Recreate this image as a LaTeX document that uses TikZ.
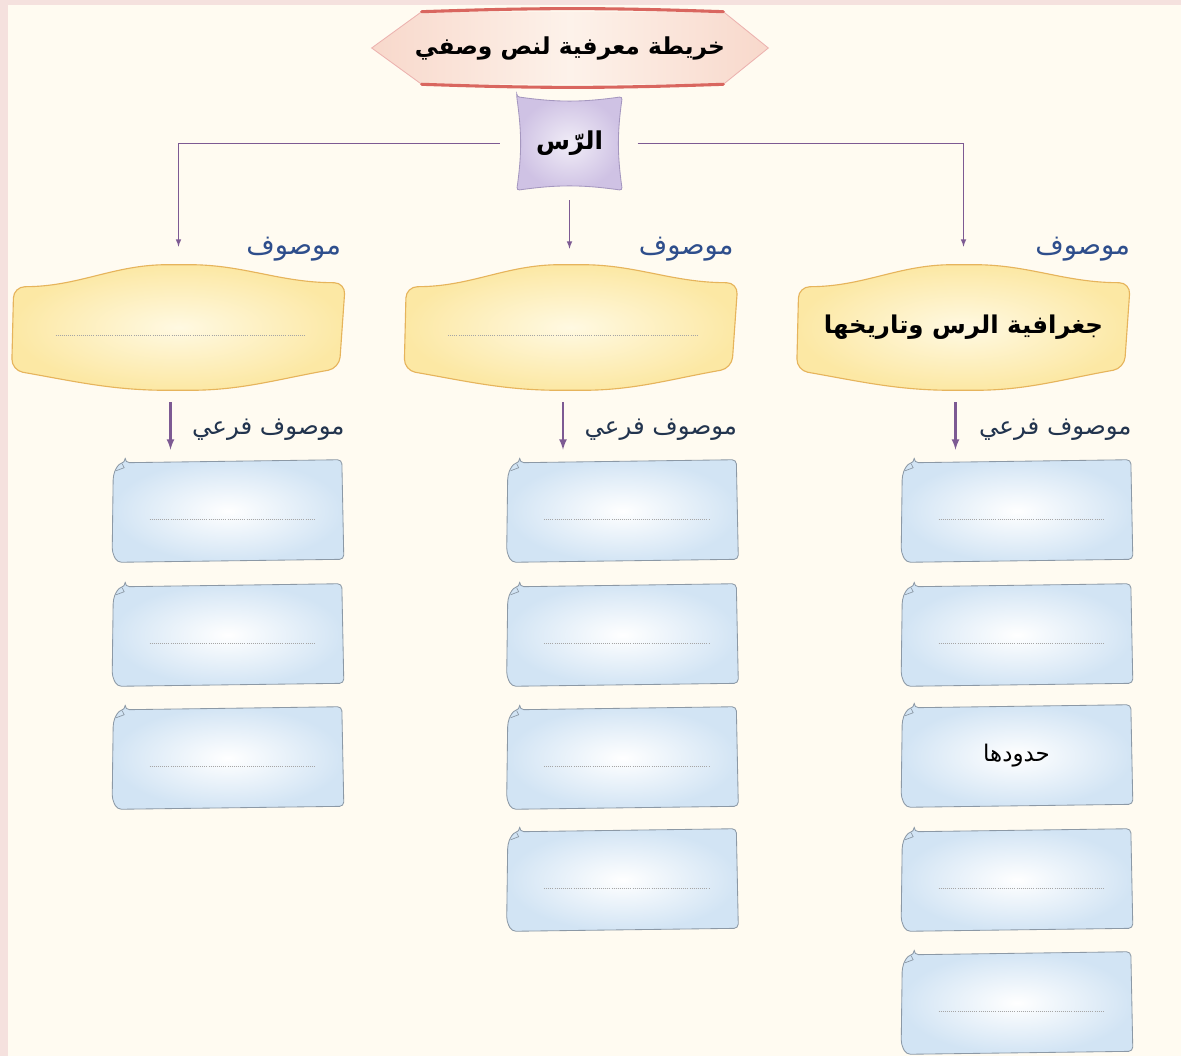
\documentclass[tikz,border=0pt]{standalone}
\usepackage{fontspec}
\newfontfamily\arabicfont[Script=Arabic]{DejaVu Sans}
\TeXXeTstate=1
\usepackage{xcolor}
\usepackage{tikz}
\usetikzlibrary{arrows}
\usetikzlibrary{calc}
\usetikzlibrary{backgrounds}

\definecolor{bgcream}{HTML}{FFFBF1}
\definecolor{edgepink}{HTML}{F5E1DE}
\definecolor{linkpurple}{HTML}{7D5A93}
\definecolor{labelblue}{HTML}{2E4E8C}
\definecolor{sublabelblue}{HTML}{22344E}
\definecolor{titlered}{HTML}{D9665F}
\definecolor{titlepeach}{HTML}{F8D8CB}
\definecolor{titlelight}{HTML}{FDF2EA}
\definecolor{rootlilac}{HTML}{CFC2E4}
\definecolor{rootedge}{HTML}{A597BF}
\definecolor{descyellow}{HTML}{FCE8A4}
\definecolor{desclight}{HTML}{FFF9E2}
\definecolor{descedge}{HTML}{E6B45C}
\definecolor{subblue}{HTML}{D2E4F4}
\definecolor{subedge}{HTML}{8C99A6}

\tikzset{
        link/.style={draw=linkpurple, line width=0.8pt},
        linkarrow/.style={link, -latex},
        subarrow/.style={draw=linkpurple, line width=1.5pt, -latex},
        titlebox/.style={minimum width=9.9cm, minimum height=1.8cm,
            font=\arabicfont\bfseries\fontsize{16.6}{20}\selectfont},
        rootbox/.style={minimum width=2.625cm, minimum height=2.325cm,
            font=\arabicfont\bfseries\fontsize{17.5}{21}\selectfont},
        descbox/.style={minimum width=8.325cm, minimum height=3.125cm,
            font=\arabicfont\bfseries\fontsize{17.4}{21}\selectfont},
        subbox/.style={minimum width=5.75cm, minimum height=2.55cm,
            font=\arabicfont\fontsize{16.3}{20}\selectfont},
        desclabel/.style={anchor=east, inner sep=0pt, text=labelblue,
            font=\arabicfont\fontsize{19.5}{23}\selectfont},
        sublabel/.style={anchor=east, inner sep=0pt, text=sublabelblue,
            font=\arabicfont\fontsize{17.4}{21}\selectfont},
        titleline/.style={draw=titlered, line width=2.2pt, line cap=round},
        rootline/.style={draw=rootedge, line width=0.6pt, rounded corners=2pt,
            inner color=white!70!rootlilac, outer color=rootlilac},
        descline/.style={draw=descedge, line width=0.8pt, rounded corners=8pt,
            inner color=desclight, outer color=descyellow},
        subline/.style={draw=subedge, line width=0.6pt, rounded corners=3pt,
            inner color=white, outer color=subblue},
        dotline/.style={draw=gray!70, line width=0.5pt, densely dotted}
}

\newcommand{\descshape}[1]{%
        \draw[descline] ($(#1.north west)+(2,22)$) to[out=0,in=180] (#1.north)
            to[out=0,in=180] ($(#1.north east)+(0,18)$)
            -- ($(#1.south east)+(-6,-22)$) to[out=190,in=0] (#1.south)
            to[out=180,in=-10] ($(#1.south west)+(0,-20)$) -- cycle;}
\newcommand{\subshape}[1]{%
        \draw[subline] ($(#1.north west)+(13,3)$) -- ($(#1.north east)+(-1,0)$)
            -- ($(#1.south east)+(1,-3)$) -- ($(#1.south west)+(5,0)$)
            -- ($(#1.south west)+(0,-10)$) -- ($(#1.north west)+(1,16)$)
            to[out=70,in=190] ($(#1.north west)+(13,3)$) -- cycle;
        \draw[draw=subedge, line width=0.5pt] ($(#1.north west)+(4,11)$)
            -- ($(#1.north west)+(12,8)$) -- ($(#1.north west)+(10,4)$);}
\newcommand{\subdots}[1]{%
        \draw[dotline] ($(#1.center)+(-78,8)$) -- ($(#1.center)+(88,8)$);}

\begin{document}
\begin{tikzpicture}[x=0.025cm, y=-0.025cm]
        \useasboundingbox (0,0) rectangle (1181,1056);

        \node[titlebox] (title) at (570,48) {\beginR خريطة معرفية لنص وصفي\endR};
        \node[rootbox] (root) at (569.5,143.5) {\beginR الرّس\endR};

        \node[descbox] (descL) at (178.5,327.5) {};
        \node[descbox] (descM) at (571,327.5) {};
        \node[descbox] (descR) at (963.5,327.5) {\beginR جغرافية الرس وتاريخها\endR};

        \node[subbox] (subL1) at (227.5,511) {};
        \node[subbox] (subL2) at (227.5,635) {};
        \node[subbox] (subL3) at (227.5,758) {};
        \node[subbox] (subM1) at (622,511) {};
        \node[subbox] (subM2) at (622,635) {};
        \node[subbox] (subM3) at (622,758) {};
        \node[subbox] (subM4) at (622,880) {};
        \node[subbox] (subR1) at (1016.5,511) {};
        \node[subbox] (subR2) at (1016.5,635) {};
        \node[subbox] (subR3) at (1016.5,756) {\beginR حدودها\endR};
        \node[subbox] (subR4) at (1016.5,880) {};
        \node[subbox] (subR5) at (1016.5,1003) {};

        \node[desclabel] (lblL) at ($(descL.north east)+(-4,-16)$) {\beginR موصوف\endR};
        \node[desclabel] (lblM) at ($(descM.north east)+(-4,-16)$) {\beginR موصوف\endR};
        \node[desclabel] (lblR) at ($(descR.north east)+(0,-16)$) {\beginR موصوف\endR};
        \node[sublabel] (sublblL) at ($(subL1.north east)+(2,-30)$) {\beginR موصوف فرعي\endR};
        \node[sublabel] (sublblM) at ($(subM1.north east)+(0,-30)$) {\beginR موصوف فرعي\endR};
        \node[sublabel] (sublblR) at ($(subR1.north east)+(0,-30)$) {\beginR موصوف فرعي\endR};

        \draw[linkarrow, shorten <=0.42cm, shorten >=0.45cm] (root.west) -| (descL.north);
        \draw[linkarrow, shorten <=0.38cm, shorten >=0.45cm] (root.east) -| (descR.north);
        \draw[linkarrow, shorten <=0.25cm, shorten >=0.4cm] (root.south) -- (root.south |- descM.north);

        \draw[subarrow, shorten <=0.3cm, shorten >=0.25cm] ([xshift=-0.2cm]descL.south) -- ([xshift=-0.2cm]descL.south |- subL1.north);
        \draw[subarrow, shorten <=0.3cm, shorten >=0.25cm] ([xshift=-0.2cm]descM.south) -- ([xshift=-0.2cm]descM.south |- subM1.north);
        \draw[subarrow, shorten <=0.3cm, shorten >=0.25cm] ([xshift=-0.2cm]descR.south) -- ([xshift=-0.2cm]descR.south |- subR1.north);

        \begin{pgfonlayer}{background}
        \fill[bgcream] (0,0) rectangle (1181,1056);
        \fill[edgepink] (0,0) rectangle (8,1056);
        \fill[edgepink] (0,0) rectangle (1181,5);

        \shade[left color=titlepeach, right color=titlepeach, middle color=titlelight]
            (title.west) -- ($(title.north west)+(50,0)$) -- ($(title.north east)+(-45,0)$)
            -- (title.east) -- ($(title.south east)+(-45,0)$) -- ($(title.south west)+(50,0)$) -- cycle;
        \draw[draw=titlered!50, line width=0.6pt] ($(title.north west)+(50,0)$) -- (title.west)
            -- ($(title.south west)+(50,0)$);
        \draw[draw=titlered!50, line width=0.6pt] ($(title.north east)+(-45,0)$) -- (title.east)
            -- ($(title.south east)+(-45,0)$);
        \draw[titleline] ($(title.north west)+(50,0)$) to[bend left=2] ($(title.north east)+(-45,0)$);
        \draw[titleline] ($(title.south west)+(50,0)$) to[bend right=2] ($(title.south east)+(-45,0)$);

        \draw[rootline] (root.north west) to[bend right=8] (root.north east)
            to[bend right=8] (root.south east) to[bend right=8] (root.south west)
            to[bend right=8] (root.north west) -- cycle;

        \descshape{descL}
        \descshape{descM}
        \descshape{descR}
        \draw[dotline] ($(descL.center)+(-123,8)$) -- ($(descL.center)+(127,8)$);
        \draw[dotline] ($(descM.center)+(-123,8)$) -- ($(descM.center)+(127,8)$);

        \foreach \s in {subL1,subL2,subL3,subM1,subM2,subM3,subM4,subR1,subR2,subR3,subR4,subR5}
            {\subshape{\s}}
        \foreach \s in {subL1,subL2,subL3,subM1,subM2,subM3,subM4,subR1,subR2,subR4,subR5}
            {\subdots{\s}}
        \end{pgfonlayer}
\end{tikzpicture}
\end{document}
